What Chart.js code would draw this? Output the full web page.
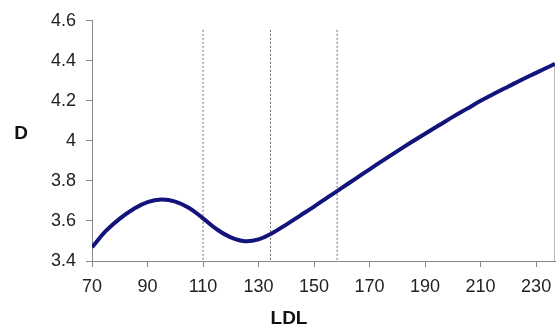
<!DOCTYPE html>
<html><head><meta charset="utf-8">
<script src="https://cdn.jsdelivr.net/npm/chart.js@4"></script>
<style>html,body{margin:0;padding:0;background:#fff}#wrap{width:556px;height:326px;position:relative}</style>
</head><body><div id="wrap"><canvas id="c" width="556" height="326"></canvas></div>
<script>
const ldl = [70,75,80,85,90,95,100,105,110,115,120,125,130,135,140,145,150,155,160,165,170,175,180,185,190,195,200,205,210,215,220,225,230,235,236.8];
const dValues = [3.469,3.55,3.612,3.66,3.694,3.707,3.697,3.665,3.613,3.558,3.518,3.499,3.508,3.54,3.582,3.627,3.672,3.719,3.765,3.812,3.858,3.904,3.949,3.993,4.036,4.078,4.12,4.16,4.20,4.237,4.272,4.307,4.34,4.373,4.385];
const xTicks = [70,90,110,130,150,170,190,210,230];
const yTicks = [3.4,3.6,3.8,4,4.2,4.4,4.6];
const cutoffs = [110,134.3,158.3];
const cutoffTop = 4.555;
const xMin = 70, xMax = 236.8, yMin = 3.4, yMax = 4.6;
const edgeTop = 4.385;
const yTitle = 'D';
const xTitle = 'LDL';

const FONT = "'Liberation Sans', Arial, sans-serif";

const datasets = [{
  data: ldl.map((x,i)=>({x:x,y:dValues[i]})),
  borderColor: '#13137c',
  borderWidth: 4,
  pointRadius: 0,
  tension: 0.4,
  fill: false
}];
cutoffs.forEach(c=>{
  datasets.push({
    data: [{x:c,y:cutoffTop},{x:c,y:yMin}],
    borderColor: '#6a6a6a',
    borderWidth: 1,
    borderDash: [2,2],
    pointRadius: 0,
    fill: false
  });
});
datasets.push({
  data: [{x:xMax,y:edgeTop},{x:xMax,y:yMin}],
  borderColor: '#b0b0b0',
  borderWidth: 1,
  pointRadius: 0,
  fill: false
});

const titles = {
  id: 'titles',
  afterDraw(chart){
    const ctx = chart.ctx;
    ctx.save();
    ctx.fillStyle = '#111';
    ctx.font = "bold 19px " + FONT;
    ctx.textAlign = 'center';
    ctx.textBaseline = 'middle';
    ctx.fillText(yTitle, 21, 134);
    ctx.fillText(xTitle, 289, 319);
    ctx.restore();
  }
};

new Chart(document.getElementById('c'), {
  type: 'line',
  data: { datasets },
  plugins: [titles],
  options: {
    responsive: false,
    devicePixelRatio: 1,
    animation: false,
    layout: { padding: { top: 19, right: 1, left: 0, bottom: 0 } },
    plugins: { legend: { display: false }, tooltip: { enabled: false } },
    scales: {
      x: {
        type: 'linear', min: xMin, max: xMax,
        afterBuildTicks(s){ s.ticks = xTicks.map(v=>({value:v})); },
        afterFit(s){ s.height = 65; s.paddingRight = 0; s.paddingLeft = 0; },
        grid: { drawOnChartArea: false, drawTicks: true, tickLength: 6, color: '#888' },
        border: { display: true, color: '#888', width: 1 },
        ticks: { color: '#222', padding: 9, maxRotation: 0, autoSkip: false,
          font: { family: FONT, size: 18 } }
      },
      y: {
        type: 'linear', min: yMin, max: yMax,
        afterBuildTicks(s){ s.ticks = yTicks.map(v=>({value:v})); },
        afterFit(s){ s.width = 92; },
        grid: { drawOnChartArea: false, drawTicks: true, tickLength: 6, color: '#888' },
        border: { display: true, color: '#888', width: 1 },
        ticks: { color: '#222', padding: 10, autoSkip: false,
          font: { family: FONT, size: 18 },
          callback: v => String(Number(v.toFixed(1))) }
      }
    }
  }
});
</script>
</body></html>
